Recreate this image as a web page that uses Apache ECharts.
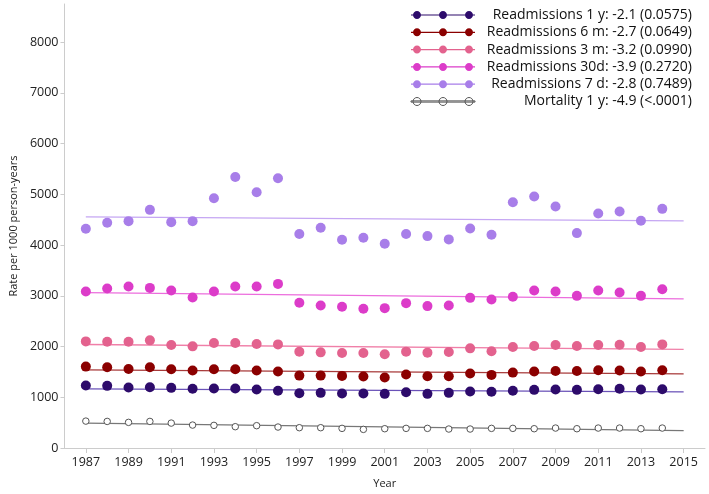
<!DOCTYPE html>
<html>
<head>
<meta charset="utf-8">
<script src="https://cdn.jsdelivr.net/npm/echarts@6/dist/echarts.min.js"></script>
<style>html,body{margin:0;padding:0;background:#fff}#c{width:709px;height:494px}</style>
</head>
<body>
<div id="c"></div>
<script>
const years = [1987,1988,1989,1990,1991,1992,1993,1994,1995,1996,1997,1998,1999,2000,2001,2002,2003,2004,2005,2006,2007,2008,2009,2010,2011,2012,2013,2014];
const xTickLabels = [1987,1989,1991,1993,1995,1997,1999,2001,2003,2005,2007,2009,2011,2013,2015];
const seriesNames = [
  'Readmissions 1 y: -2.1 (0.0575)',
  'Readmissions 6 m: -2.7 (0.0649)',
  'Readmissions 3 m: -3.2 (0.0990)',
  'Readmissions 30d: -3.9 (0.2720)',
  'Readmissions 7 d: -2.8 (0.7489)',
  'Mortality 1 y: -4.9 (<.0001)'
];
const readm1y  = [1231,1225,1192,1198,1185,1166,1172,1172,1153,1127,1080,1087,1074,1074,1067,1100,1067,1087,1113,1107,1127,1146,1153,1146,1159,1166,1153,1159];
const readm6m  = [1604,1591,1558,1591,1551,1526,1551,1551,1526,1506,1427,1427,1421,1408,1388,1447,1414,1414,1467,1441,1486,1506,1519,1519,1532,1526,1506,1532];
const readm3m  = [2101,2095,2095,2121,2030,2003,2069,2069,2049,2042,1899,1885,1872,1872,1846,1899,1879,1892,1964,1905,1991,2010,2030,2010,2030,2036,1991,2042];
const readm30d = [3083,3142,3181,3155,3103,2965,3083,3181,3181,3234,2861,2808,2782,2743,2756,2855,2796,2808,2959,2926,2979,3103,3083,2998,3103,3063,2998,3129];
const readm7d  = [4320,4438,4471,4693,4451,4471,4922,5341,5040,5315,4216,4339,4104,4143,4025,4216,4176,4111,4327,4202,4844,4956,4759,4235,4622,4661,4477,4713];
const mort1y   = [530,524,505,524,491,452,446,420,440,413,400,400,387,367,380,387,387,374,374,387,387,380,393,380,393,393,380,393];
// trend lines: fitted value at start year and end year
const trendYears = [1987, 2015];
const trend1y  = [1166, 1107];
const trend6m  = [1539, 1461];
const trend3m  = [2040, 1944];
const trend30d = [3063, 2939];
const trend7d  = [4556, 4477];
const trendMort= [491, 341];

const values = [readm1y, readm6m, readm3m, readm30d, readm7d, mort1y];
const trends = [trend1y, trend6m, trend3m, trend30d, trend7d, trendMort];
const markColors = ['#2d0b6b','#8b0000','#e3628e','#dc3cc9','#a87ee9','#ffffff'];
const lineColors = ['#6a52b8','#a83a3a','#f07fa8','#ec6ddd','#c5a6f3','#777777'];

function circ(cx) {
  return 'M' + (cx - 4) + ',4 C' + (cx - 4) + ',1.79 ' + (cx - 2.21) + ',0 ' + cx + ',0 C' +
    (cx + 2.21) + ',0 ' + (cx + 4) + ',1.79 ' + (cx + 4) + ',4 C' + (cx + 4) + ',6.21 ' +
    (cx + 2.21) + ',8 ' + cx + ',8 C' + (cx - 2.21) + ',8 ' + (cx - 4) + ',6.21 ' + (cx - 4) + ',4 Z ';
}
const iconPath = 'path://M0,3.4 L64,3.4 L64,4.6 L0,4.6 Z ' + circ(6) + circ(32) + circ(58);

const series = [];
seriesNames.forEach((name, i) => {
  series.push({
    name: name + ' trend',
    type: 'line',
    data: trendYears.map((y, k) => [y, trends[i][k]]),
    symbol: 'none',
    silent: true,
    z: 1,
    lineStyle: { color: lineColors[i], width: 1.3 },
    itemStyle: { color: lineColors[i] }
  });
});
seriesNames.forEach((name, i) => {
  const isMort = i === 5;
  series.push({
    name: name,
    type: 'scatter',
    data: years.map((y, k) => [y, values[i][k]]),
    symbol: 'circle',
    symbolSize: isMort ? 6.5 : 10,
    z: 3,
    itemStyle: isMort ? { color: '#ffffff', borderColor: '#555', borderWidth: 1, opacity: 1 }
                      : { color: markColors[i], opacity: 1 }
  });
});

const chart = echarts.init(document.getElementById('c'), null, { renderer: 'canvas' });
chart.setOption({
  animation: false,
  backgroundColor: '#ffffff',
  textStyle: { fontFamily: 'Open Sans' },
  grid: { left: 57, right: 4, top: 4, bottom: 44, containLabel: false },
  legend: {
    data: seriesNames.map((n, i) => ({
      name: n,
      icon: iconPath,
      itemStyle: i === 5 ? { color: '#ffffff', borderColor: '#555', borderWidth: 1 } : { color: markColors[i] }
    })),
    orient: 'vertical',
    right: 12,
    top: 3,
    itemWidth: 64,
    itemHeight: 8,
    itemGap: 3.3,
    selectedMode: false,
    formatter: n => '{a|' + n + '}',
    textStyle: {
      rich: { a: { width: 212, align: 'right', fontSize: 14, lineHeight: 17, color: '#111', fontFamily: 'Open Sans' } }
    }
  },
  xAxis: {
    type: 'value',
    min: 1986,
    max: 2016,
    name: 'Year',
    nameLocation: 'middle',
    nameGap: 30,
    nameTextStyle: { fontSize: 11, color: '#222' },
    axisLine: { show: true, lineStyle: { color: '#cccccc', width: 1 } },
    axisTick: { show: true, customValues: xTickLabels, length: 5, lineStyle: { color: '#cccccc' } },
    axisLabel: { customValues: xTickLabels, fontSize: 12.5, color: '#222', margin: 8, formatter: v => String(v) },
    splitLine: { show: false }
  },
  yAxis: {
    type: 'value',
    min: 0,
    max: 8750,
    interval: 1000,
    name: 'Rate per 1000 person-years',
    nameLocation: 'middle',
    nameGap: 45,
    nameTextStyle: { fontSize: 11, color: '#222' },
    axisLine: { show: true, lineStyle: { color: '#cccccc', width: 1 } },
    axisTick: { show: true, length: 4, lineStyle: { color: '#cccccc' } },
    axisLabel: { fontSize: 12.5, color: '#222', margin: 6, showMaxLabel: false, formatter: v => String(v) },
    splitLine: { show: false }
  },
  series: series
});
</script>
</body>
</html>
